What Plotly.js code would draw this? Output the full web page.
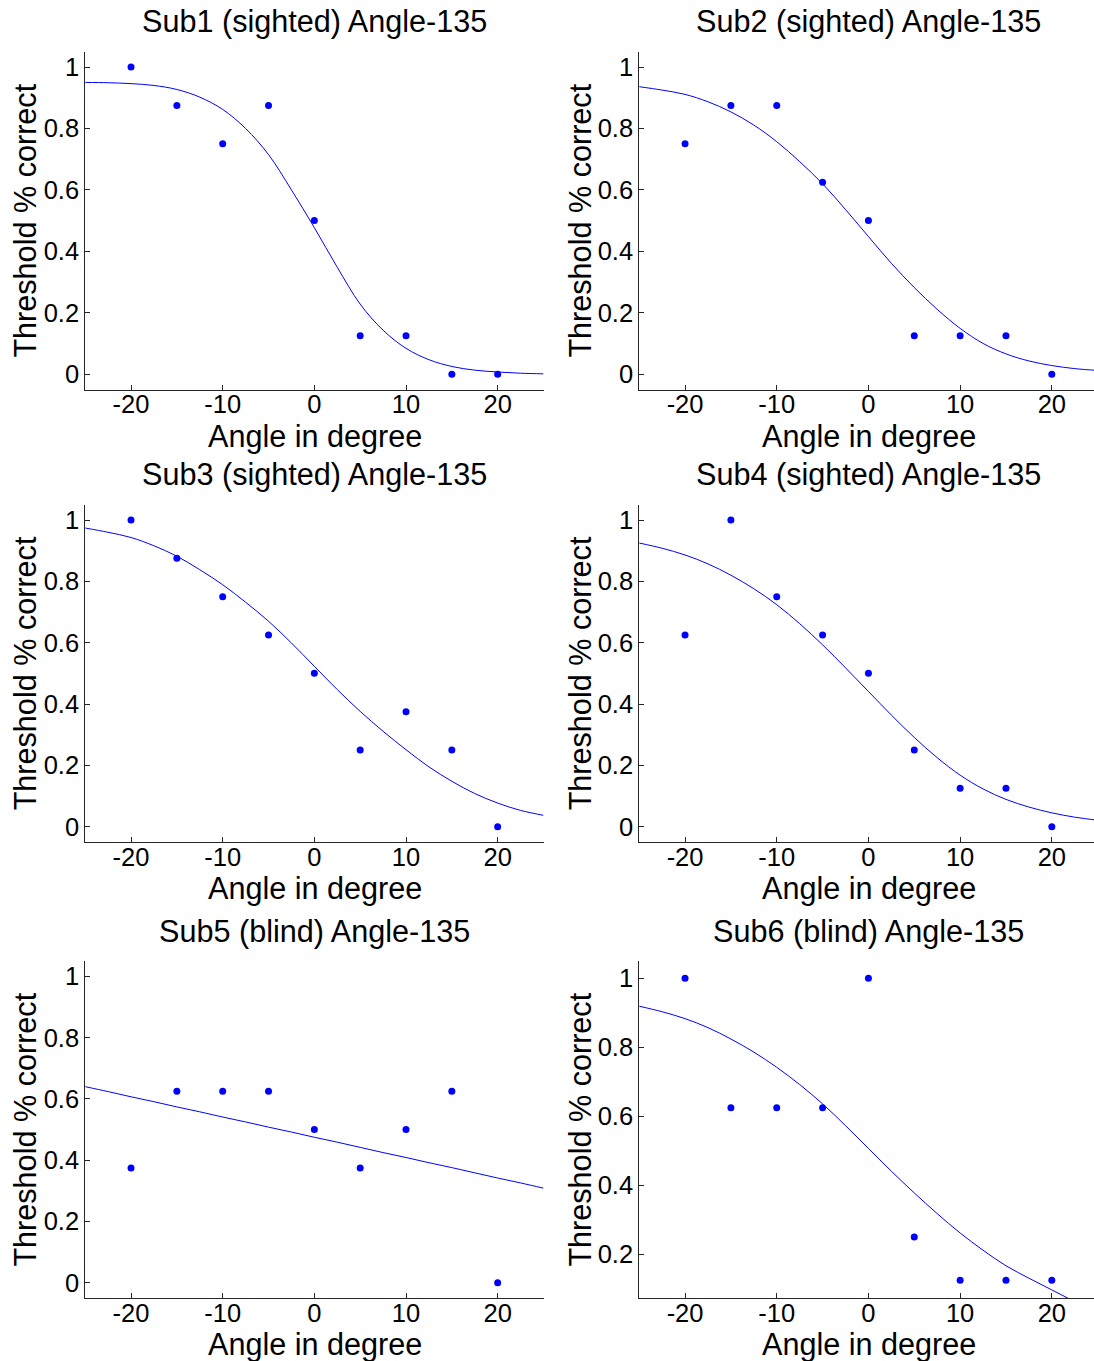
<!DOCTYPE html>
<html>
<head>
<meta charset="utf-8">
<script src="https://cdn.plot.ly/plotly-3.0.1.min.js"></script>
<style>
  html, body { margin: 0; padding: 0; background: #fff; }
  #chart { width: 1094px; height: 1361px; }
</style>
</head>
<body>
<div id="chart"></div>
<script>
// ---- data ----
const angles = [-20, -15, -10, -5, 0, 5, 10, 15, 20];

const sub1 = [1, 0.875, 0.75, 0.875, 0.5, 0.125, 0.125, 0, 0];
const sub2 = [0.75, 0.875, 0.875, 0.625, 0.5, 0.125, 0.125, 0.125, 0];
const sub3 = [1, 0.875, 0.75, 0.625, 0.5, 0.25, 0.375, 0.25, 0];
const sub4 = [0.625, 1, 0.75, 0.625, 0.5, 0.25, 0.125, 0.125, 0];
const sub5 = [0.375, 0.625, 0.625, 0.625, 0.5, 0.375, 0.5, 0.625, 0];
const sub6 = [1, 0.625, 0.625, 0.625, 1, 0.25, 0.125, 0.125, 0.125];

// fitted curves, read at every 2.5 degrees
const fitX = [-25, -22.5, -20, -17.5, -15, -12.5, -10, -7.5, -5, -2.5, 0,
              2.5, 5, 7.5, 10, 12.5, 15, 17.5, 20, 22.5, 25];
const fit1 = [0.950, 0.949, 0.946, 0.940, 0.927, 0.902, 0.862, 0.800, 0.715, 0.600, 0.477,
              0.348, 0.228, 0.143, 0.084, 0.047, 0.025, 0.013, 0.007, 0.003, 0.001];
const fit2 = [0.936, 0.925, 0.911, 0.887, 0.854, 0.811, 0.757, 0.692, 0.620, 0.536, 0.448,
              0.361, 0.282, 0.211, 0.149, 0.100, 0.066, 0.043, 0.028, 0.018, 0.012];
const fit3 = [0.974, 0.960, 0.943, 0.916, 0.882, 0.838, 0.789, 0.732, 0.670, 0.599, 0.523,
              0.447, 0.376, 0.311, 0.251, 0.195, 0.148, 0.108, 0.077, 0.053, 0.037];
const fit4 = [0.925, 0.908, 0.886, 0.857, 0.820, 0.776, 0.724, 0.662, 0.593, 0.518, 0.441,
              0.364, 0.291, 0.225, 0.168, 0.123, 0.089, 0.064, 0.045, 0.031, 0.021];
const fit5 = [0.640, 0.624, 0.607, 0.591, 0.574, 0.558, 0.541, 0.525, 0.508, 0.492, 0.475,
              0.459, 0.442, 0.425, 0.409, 0.392, 0.376, 0.359, 0.342, 0.326, 0.309];
const fit6 = [0.919, 0.903, 0.883, 0.857, 0.824, 0.786, 0.742, 0.692, 0.636, 0.573, 0.507,
              0.441, 0.378, 0.318, 0.262, 0.212, 0.167, 0.131, 0.097, 0.063, 0.030];

const titles = ["Sub1 (sighted) Angle-135", "Sub2 (sighted) Angle-135",
                "Sub3 (sighted) Angle-135", "Sub4 (sighted) Angle-135",
                "Sub5 (blind) Angle-135", "Sub6 (blind) Angle-135"];
const xLabel = "Angle in degree";
const yLabel = "Threshold % correct";

const xTickVals = [-20, -10, 0, 10, 20];
const xTickText = ["-20", "-10", "0", "10", "20"];
const yTickVals = [0, 0.2, 0.4, 0.6, 0.8, 1];
const yTickText = ["0", "0.2", "0.4", "0.6", "0.8", "1"];
const yTickVals6 = [0.2, 0.4, 0.6, 0.8, 1];
const yTickText6 = ["0.2", "0.4", "0.6", "0.8", "1"];

// ---- layout geometry ----
const W = 1094, H = 1361;
const FONT = "Liberation Sans, Arial, Helvetica, sans-serif";
const colDom = [[85.2 / W, 543.5 / W], [639.2 / W, 1]];
const rowPx = [[51.7, 389.5], [504.7, 842], [961, 1298.2]];
const rowDom = rowPx.map(r => [1 - r[1] / H, 1 - r[0] / H]);
const xRanges = [[-25, 25], [-25, 24.6]];

const seriesList = [sub1, sub2, sub3, sub4, sub5, sub6];
const fitList = [fit1, fit2, fit3, fit4, fit5, fit6];
const yRanges = [[-0.05, 1.05], [-0.05, 1.05], [-0.05, 1.05], [-0.05, 1.05], [-0.05, 1.05], [0.073, 1.05]];

const data = [];
const layout = {
  width: W, height: H,
  margin: {l: 0, r: 0, t: 0, b: 0},
  paper_bgcolor: "#ffffff", plot_bgcolor: "#ffffff",
  showlegend: false,
  font: {family: FONT, color: "#000"},
  annotations: []
};

const axisCommon = {
  showline: true, linecolor: "#262626", linewidth: 1,
  ticks: "inside", ticklen: 5, tickwidth: 1, tickcolor: "#262626",
  showgrid: false, zeroline: false, mirror: false,
  tickfont: {family: FONT, size: 25.5, color: "#000"},
  fixedrange: true
};

const TFS = 30.6;
for (let i = 0; i < 6; i++) {
  const row = Math.floor(i / 2), col = i % 2;
  const n = i + 1;
  const xa = "x" + (n === 1 ? "" : n), ya = "y" + (n === 1 ? "" : n);
  const xKey = "xaxis" + (n === 1 ? "" : n), yKey = "yaxis" + (n === 1 ? "" : n);

  data.push({
    x: fitX, y: fitList[i], xaxis: xa, yaxis: ya,
    mode: "lines", line: {color: "#0000ff", width: 1, shape: "spline", smoothing: 1},
    hoverinfo: "skip"
  });
  data.push({
    x: angles, y: seriesList[i], xaxis: xa, yaxis: ya,
    mode: "markers", marker: {color: "#0000ff", size: 7},
    cliponaxis: false
  });

  layout[xKey] = Object.assign({}, axisCommon, {
    domain: colDom[col], range: xRanges[col], anchor: ya,
    tickmode: "array", tickvals: xTickVals, ticktext: xTickText,
    ticklabelstandoff: -8
  });
  layout[yKey] = Object.assign({}, axisCommon, {
    domain: rowDom[row], range: yRanges[i], anchor: xa,
    tickmode: "array",
    tickvals: i === 5 ? yTickVals6 : yTickVals,
    ticktext: i === 5 ? yTickText6 : yTickText
  });

  const cx = col === 0 ? 314.5 : 868.5;
  const top = rowPx[row][0], bot = rowPx[row][1];
  // subplot title
  layout.annotations.push({
    text: titles[i], xref: "paper", yref: "paper",
    x: cx / W, y: 1 - (top - 30) / H, xanchor: "center", yanchor: "middle",
    showarrow: false, font: {family: FONT, size: TFS, color: "#000"}
  });
  // x axis title
  layout.annotations.push({
    text: xLabel, xref: "paper", yref: "paper",
    x: cx / W, y: 1 - (bot + 46.5) / H, xanchor: "center", yanchor: "middle",
    showarrow: false, font: {family: FONT, size: TFS, color: "#000"}
  });
  // y axis title
  layout.annotations.push({
    text: yLabel, xref: "paper", yref: "paper",
    x: (col === 0 ? 25 : 580) / W, y: 1 - ((top + bot) / 2) / H,
    xanchor: "center", yanchor: "middle", textangle: -90,
    showarrow: false, font: {family: FONT, size: TFS, color: "#000"}
  });
}

Plotly.newPlot("chart", data, layout, {displayModeBar: false, staticPlot: true});
</script>
</body>
</html>
